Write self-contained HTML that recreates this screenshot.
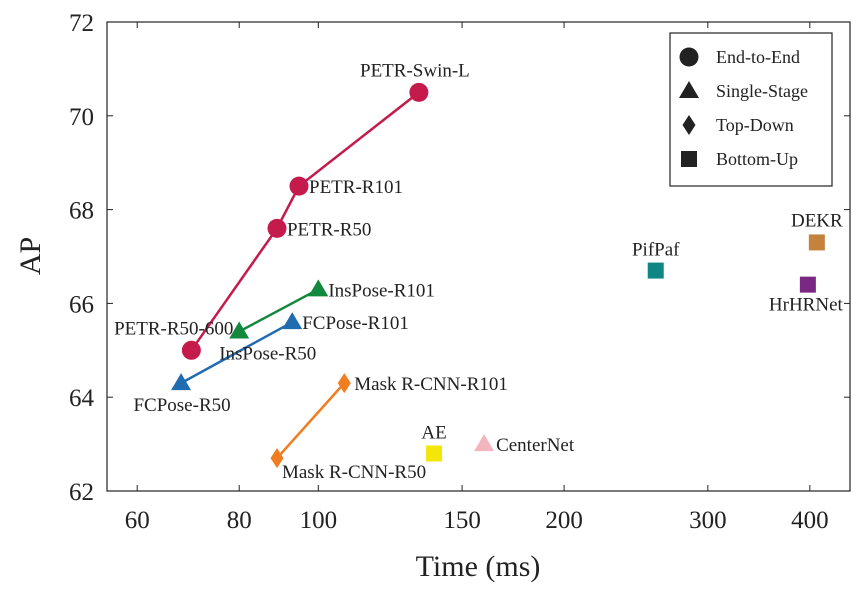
<!DOCTYPE html>
<html><head><meta charset="utf-8"><style>
body{margin:0;background:#fff}
svg{font-family:"Liberation Serif",serif}
</style></head><body>
<svg id="chart" width="866" height="584" viewBox="0 0 866 584" xmlns="http://www.w3.org/2000/svg"></svg>
<script>
const xTicks=[60,80,100,150,200,300,400];
const yTicks=[62,64,66,68,70,72];
const petrNames=["PETR-R50-600","PETR-R50","PETR-R101","PETR-Swin-L"];
const petrTime=[69.9,89,94.7,132.8];
const petrAP=[65.0,67.6,68.5,70.5];
const fcNames=["FCPose-R50","FCPose-R101"];
const fcTime=[67.9,92.9];
const fcAP=[64.3,65.6];
const insNames=["InsPose-R50","InsPose-R101"];
const insTime=[80,100];
const insAP=[65.4,66.3];
const mrNames=["Mask R-CNN-R50","Mask R-CNN-R101"];
const mrTime=[89,107.6];
const mrAP=[62.7,64.3];
const singleNames=["AE","CenterNet","PifPaf","HrHRNet","DEKR"];
const singleTime=[138.6,159.6,259,397.8,408];
const singleAP=[62.8,63.0,66.7,66.4,67.3];

const L=107,R=850,T=22,B=491;
const xl=Math.log10(55.1),xr=Math.log10(448);
const X=v=>L+(Math.log10(v)-xl)/(xr-xl)*(R-L);
const Y=v=>B-(v-62)/(72-62)*(B-T);
const svg=document.getElementById('chart');
const NS="http://www.w3.org/2000/svg";
function mk(tag,attrs,parent){const e=document.createElementNS(NS,tag);for(const k in attrs)e.setAttribute(k,attrs[k]);(parent||svg).appendChild(e);return e;}
function txt(s,x,y,size,anchor,name){const t=mk('text',{x:x,y:y,'font-size':size,'text-anchor':anchor||'start',fill:'#222'});t.textContent=s;return t;}

const frame=mk('rect',{x:L,y:T,width:R-L,height:B-T,fill:'none',stroke:'#222','stroke-width':1.2});


xTicks.forEach(v=>{const x=X(v);
 const t1=mk('line',{x1:x,x2:x,y1:B,y2:B-6,stroke:'#222'});
 const t2=mk('line',{x1:x,x2:x,y1:T,y2:T+6,stroke:'#222'});
 txt(String(v),x,528,25,'middle','x-tick-label');});
yTicks.forEach(v=>{const y=Y(v);
 const t1=mk('line',{x1:L,x2:L+6,y1:y,y2:y,stroke:'#222'});
 const t2=mk('line',{x1:R,x2:R-6,y1:y,y2:y,stroke:'#222'});
 txt(String(v),94,y+9,25,'end','y-tick-label');});
txt("Time (ms)",478,576,30,'middle','x-axis-title');
const yt=txt("AP",0,0,30,'middle','y-axis-title');yt.setAttribute('transform','translate(40,256) rotate(-90)');

function marker(shape,x,y,c,name){let e;
 if(shape==='c')e=mk('circle',{cx:x,cy:y,r:9.5,fill:c});
 else if(shape==='t')e=mk('polygon',{points:`${x},${y-10} ${x+10},${y+7} ${x-10},${y+7}`,fill:c});
 else if(shape==='d')e=mk('polygon',{points:`${x},${y-10} ${x+6.5},${y} ${x},${y+10} ${x-6.5},${y}`,fill:c});
 else e=mk('rect',{x:x-8,y:y-8,width:16,height:16,fill:c});
 return e;}
function series(times,aps,names,shape,c,offs,key){
 const pts=times.map((t,i)=>X(t)+','+Y(aps[i])).join(' ');
 const pl=mk('polyline',{points:pts,fill:'none',stroke:c,'stroke-width':2.5});
 
 times.forEach((t,i)=>{const x=X(t),y=Y(aps[i]);marker(shape,x,y,c,key+'-point');
  txt(names[i],x+offs[i][0],y+offs[i][1],19,offs[i][2],key+'-label');});}
series(petrTime,petrAP,petrNames,'c','#c41a4c',[[42,-16,'end'],[10,7,'start'],[10,7,'start'],[-4,-16,'middle']],'petr');
series(fcTime,fcAP,fcNames,'t','#1f6cb0',[[1,28,'middle'],[10,7,'start']],'fcpose');
series(insTime,insAP,insNames,'t','#12883e',[[-20,28,'start'],[10,7,'start']],'inspose');
series(mrTime,mrAP,mrNames,'d','#f07d1f',[[5,20,'start'],[10,7,'start']],'maskrcnn');
const sCol=['#f5e60a','#f4b6be','#0f8585','#7a2883','#c4823c'];
const sShape=['s','t','s','s','s'];
const sOff=[[0,-15,'middle'],[12,7,'start'],[0,-15,'middle'],[-2,26,'middle'],[0,-16,'middle']];
singleTime.forEach((t,i)=>{const x=X(t),y=Y(singleAP[i]);marker(sShape[i],x,y,sCol[i],'method-point');
 txt(singleNames[i],x+sOff[i][0],y+sOff[i][1],19,sOff[i][2],'method-label');});

const lg=mk('g',{});
mk('rect',{x:670,y:33,width:162,height:153,fill:'#fff',stroke:'#222','stroke-width':1.2},lg);
const lgN=["End-to-End","Single-Stage","Top-Down","Bottom-Up"],lgS=['c','t','d','s'];
lgN.forEach((n,i)=>{const y=57+i*34;const m=marker(lgS[i],689,y,'#222','legend-marker');lg.appendChild(m);
 const t=txt(n,716,y+6,18,'start','legend-entry');lg.appendChild(t);});
</script>
</body></html>
